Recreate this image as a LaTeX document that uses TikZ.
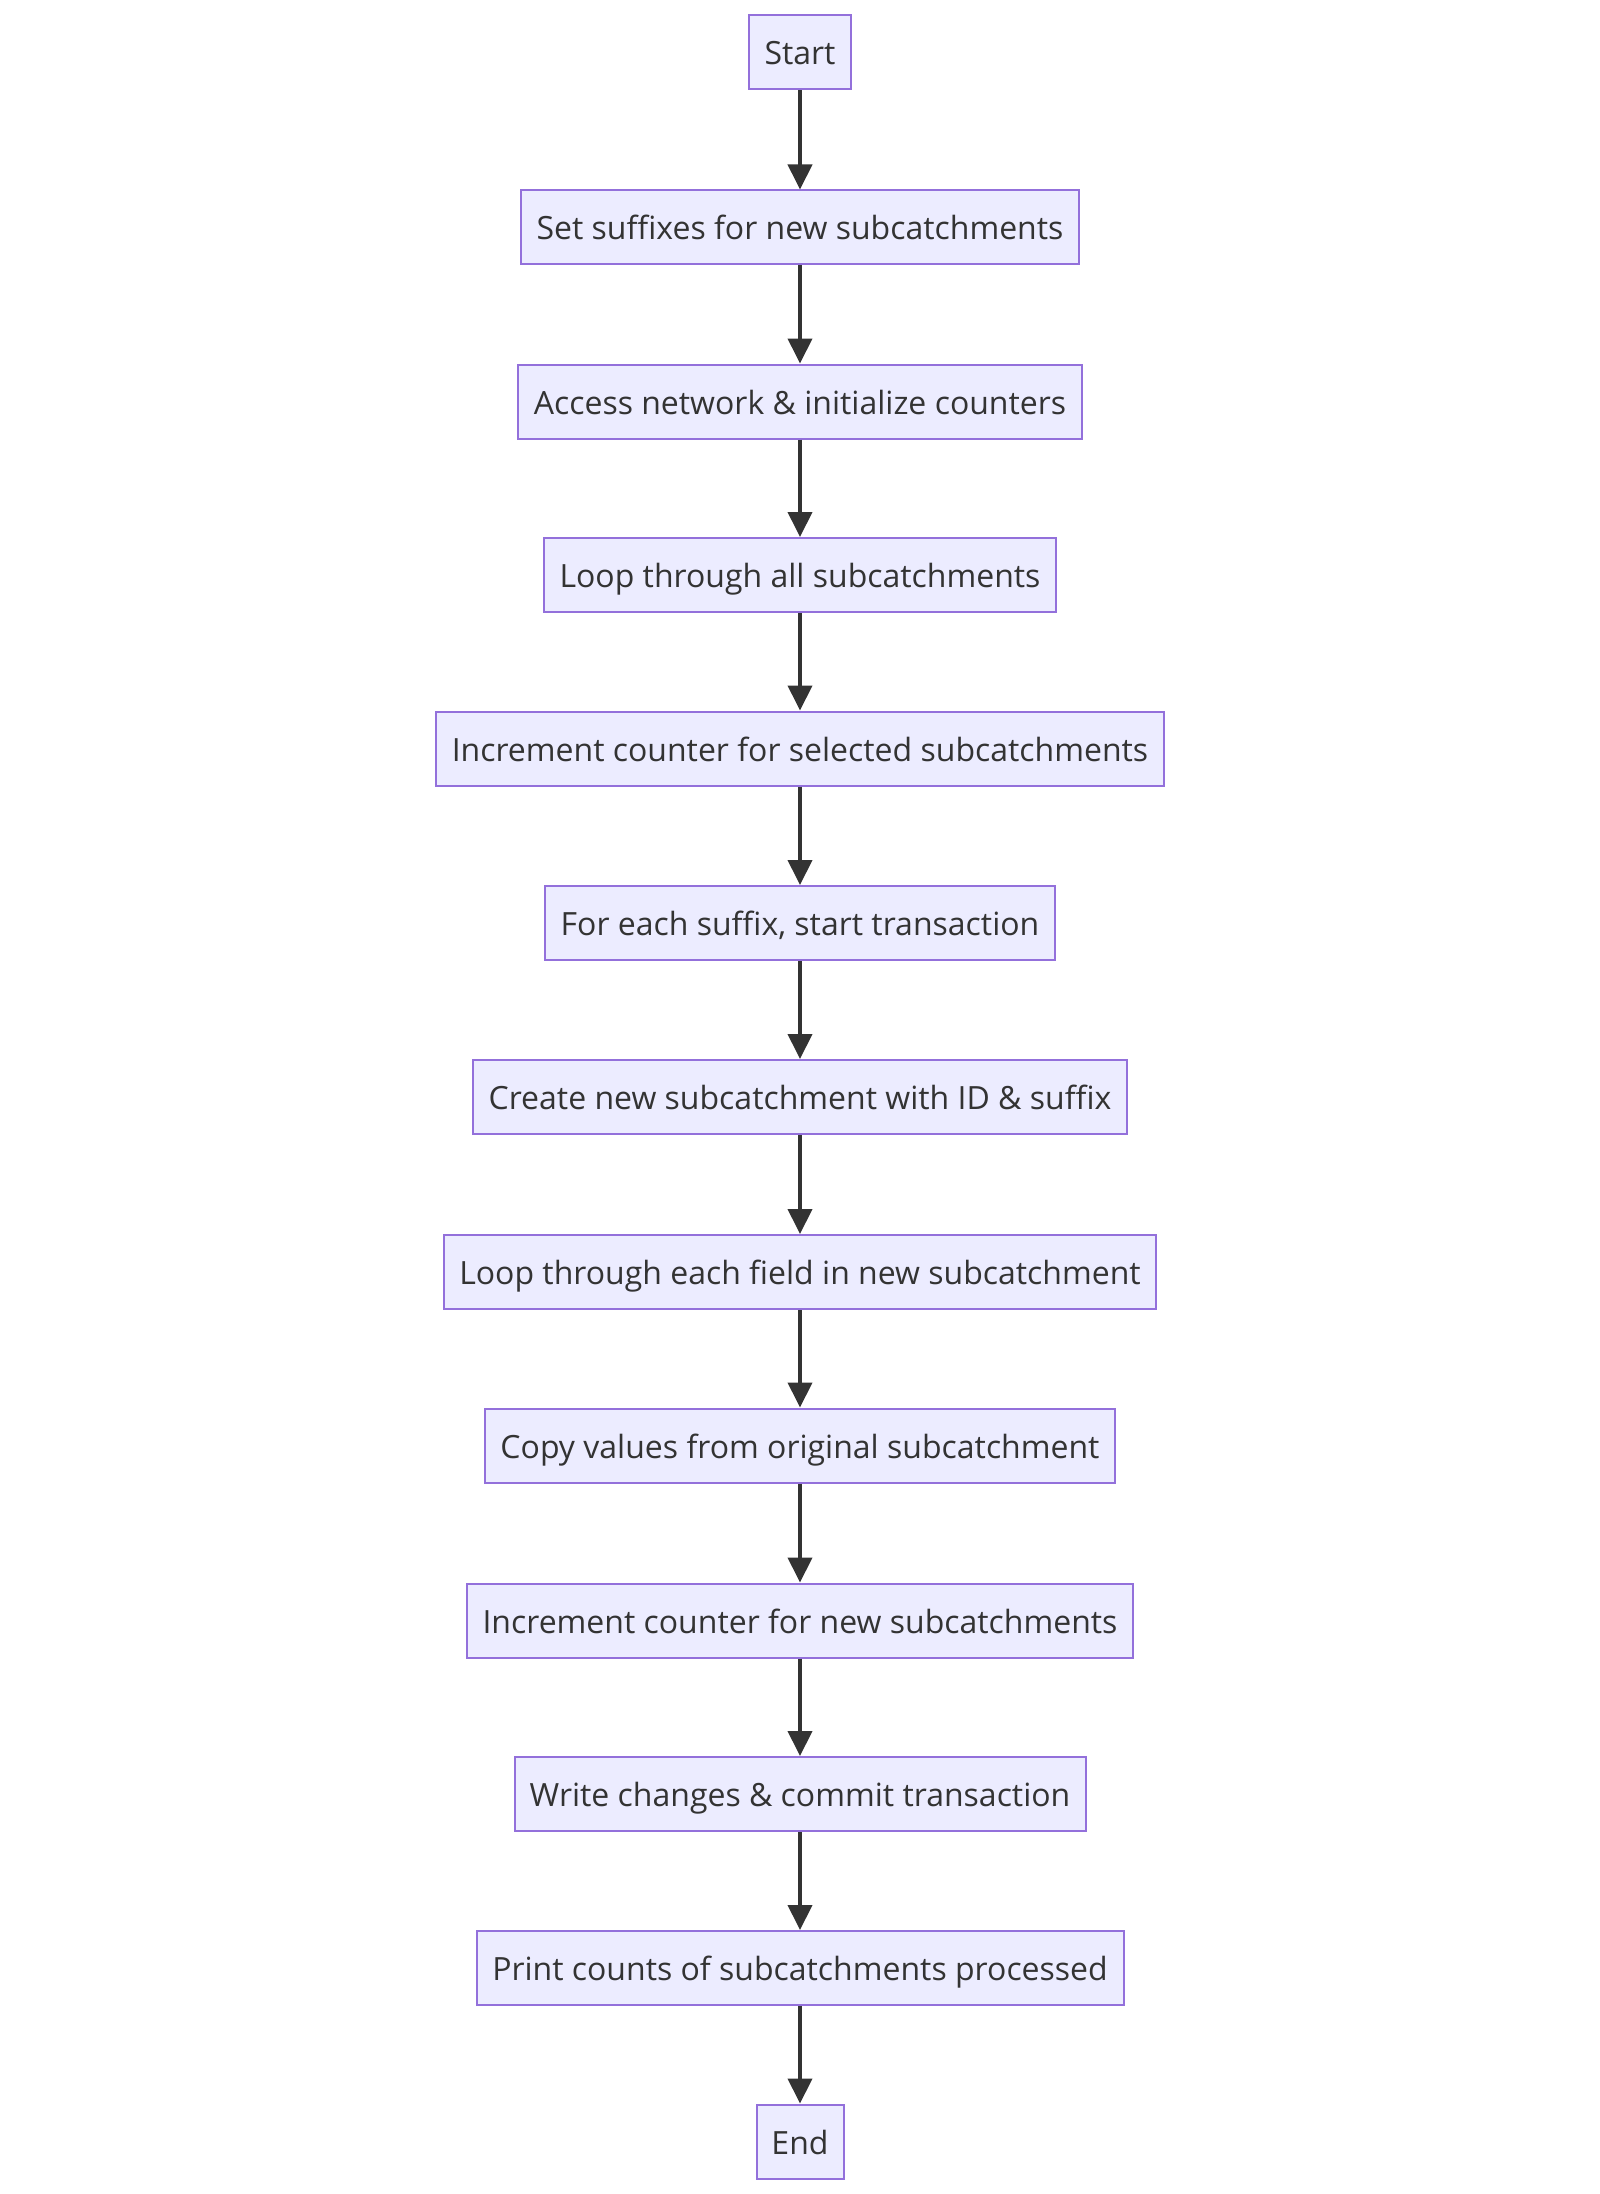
\documentclass[tikz,border=0pt]{standalone}
\usepackage{fontspec}
\setmainfont{Open Sans}
\usetikzlibrary{arrows.meta}
\definecolor{boxfill}{HTML}{ECECFF}
\definecolor{boxline}{HTML}{9370DB}
\definecolor{ink}{HTML}{333333}
\begin{document}
\begin{tikzpicture}[x=0.5pt,y=-0.5pt,
  stepbox/.style={draw=boxline, fill=boxfill, line width=1pt, text=ink,
    font=\fontsize{16pt}{19pt}\selectfont, inner sep=0pt,
    text height=16pt, text depth=3.5pt,
    minimum height=37pt, align=center},
  flow/.style={draw=ink, line width=2pt,
    -{Triangle[width=12pt,length=12.5pt]}}]
\useasboundingbox (0,0) rectangle (1600,2194);
\node[stepbox, minimum width=51pt]  (n1)  at (800,52.5)  {Start};
\node[stepbox, minimum width=279pt] (n2)  at (800,227.5) {Set suffixes for new subcatchments};
\node[stepbox, minimum width=282pt] (n3)  at (800,401.5) {Access network \& initialize counters};
\node[stepbox, minimum width=256pt] (n4)  at (800,575)   {Loop through all subcatchments};
\node[stepbox, minimum width=364pt] (n5)  at (800,748.5) {Increment counter for selected subcatchments};
\node[stepbox, minimum width=255pt] (n6)  at (800,923)   {For each suffix, start transaction};
\node[stepbox, minimum width=327pt] (n7)  at (800,1097)  {Create new subcatchment with ID \& suffix};
\node[stepbox, minimum width=356pt] (n8)  at (800,1272)  {Loop through each field in new subcatchment};
\node[stepbox, minimum width=315pt] (n9)  at (800,1445.5){Copy values from original subcatchment};
\node[stepbox, minimum width=333pt] (n10) at (800,1620.5){Increment counter for new subcatchments};
\node[stepbox, minimum width=285.5pt] (n11) at (800,1794) {Write changes \& commit transaction};
\node[stepbox, minimum width=323.5pt] (n12) at (800,1968) {Print counts of subcatchments processed};
\node[stepbox, minimum width=43.5pt] (n13) at (800,2141.5){End};
\foreach \a/\b in {n1/n2,n2/n3,n3/n4,n4/n5,n5/n6,n6/n7,n7/n8,n8/n9,n9/n10,n10/n11,n11/n12,n12/n13}
  \draw[flow] (\a) -- (\b);
\end{tikzpicture}
\end{document}
